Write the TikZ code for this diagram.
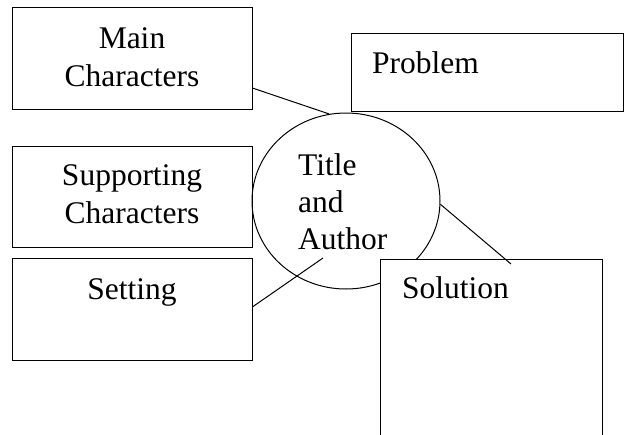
\documentclass[tikz,border=0pt]{standalone}
\usepackage{fontspec}
\setmainfont{Liberation Serif}
\usetikzlibrary{shapes.geometric,calc}
\begin{document}
\begin{tikzpicture}[x=1pt,y=-1pt,
  box/.style={draw,line width=1pt,rectangle,inner sep=0pt,fill=white},
  label/.style={font=\fontsize{31.5}{38}\selectfont,inner sep=0pt,anchor=base},
  link/.style={line width=1pt}]
\clip (0,0) rectangle (624,434);
\fill[white] (0,0) rectangle (624,434);
% boxes
\node[box,minimum width=240pt,minimum height=102pt] (main) at (132,58) {};
\node[box,minimum width=240pt,minimum height=101pt] (supp) at (132,196.5) {};
\node[box,minimum width=240pt,minimum height=102pt] (sett) at (132,309) {};
\node[box,minimum width=272pt,minimum height=78pt] (prob) at (487,72) {};
% circle
\node[draw,line width=1pt,ellipse,inner sep=0pt,minimum width=188pt,minimum height=176pt] (title) at (346,201) {};
% solution box on top of circle
\node[box,minimum width=222pt,minimum height=200pt] (sol) at (491,359) {};
% texts
\node[label,align=center] (tmain1) at (132,48) {Main};
\node[label,align=center] (tmain2) at (132,86) {Characters};
\node[label] (tsupp1) at (132,185) {Supporting};
\node[label] (tsupp2) at (132,223) {Characters};
\node[label] (tsett) at (132,299) {Setting};
\node[label,anchor=base west] (tprob) at (372,73) {Problem};
\node[label,anchor=base west] (ttitle1) at (298,175) {Title};
\node[label,anchor=base west] (ttitle2) at (298,212) {and};
\node[label,anchor=base west] (ttitle3) at (298,249) {Author};
\node[label,anchor=base west] (tsol) at (402,298) {Solution};
% connectors
\coordinate (settend) at (323,258);
\coordinate (solend) at (511,264);
\draw[link] (main.-14.9) -- (title.101.8);
\draw[link] (sett.1.9) -- (settend);
\draw[link] (title.-2.4) -- (solend);
\end{tikzpicture}
\end{document}
